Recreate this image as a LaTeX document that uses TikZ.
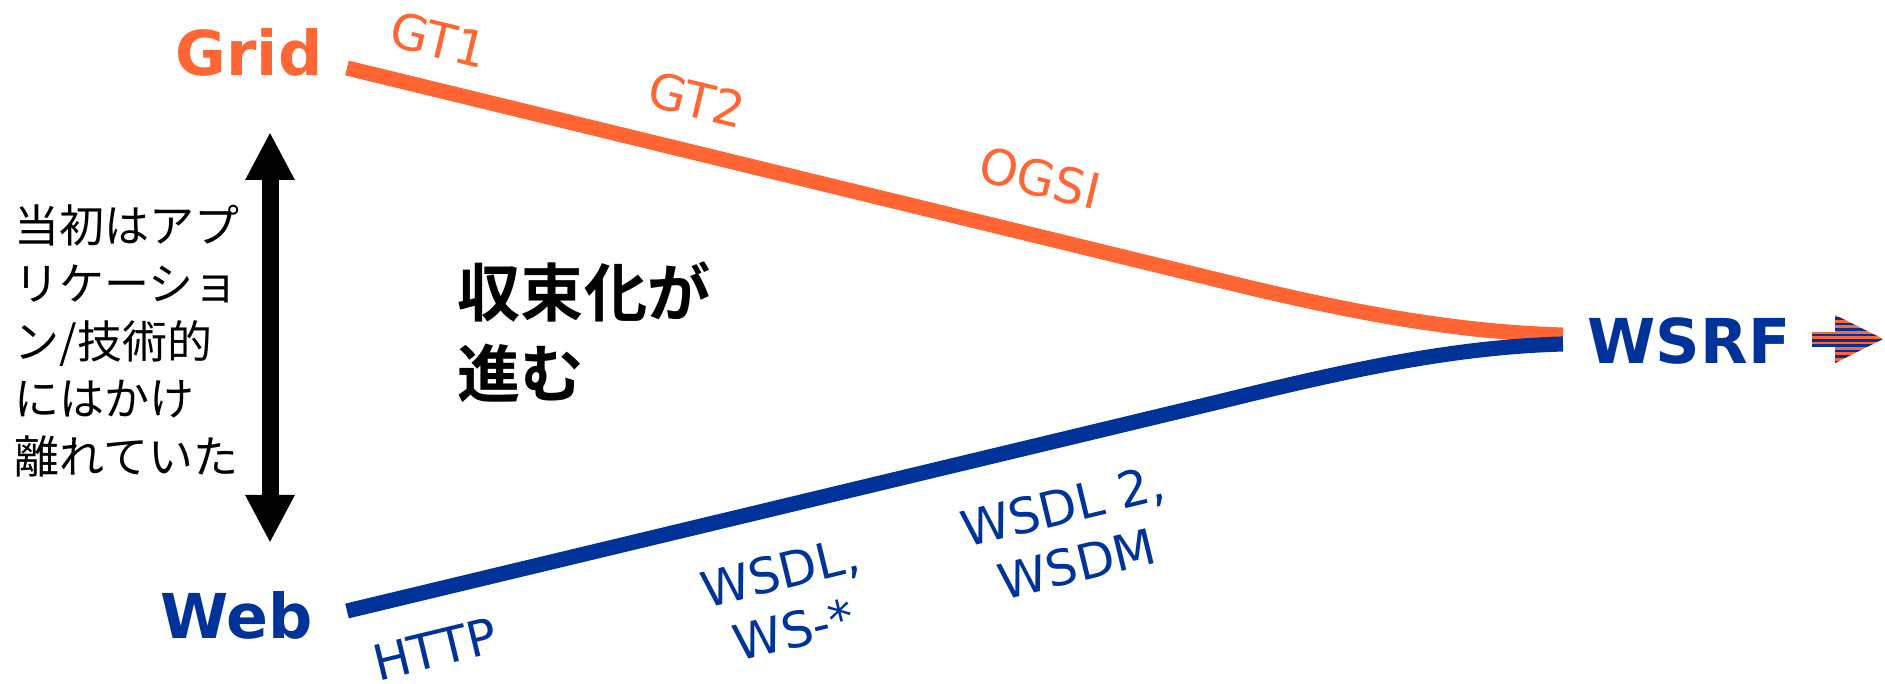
\documentclass[tikz,border=0pt]{standalone}
\usepackage{fontspec}
\setmainfont{DejaVu Sans}
\newfontfamily\jpfont{Noto Sans CJK JP}[BoldFont={Noto Sans CJK JP Bold}]
\usetikzlibrary{arrows.meta}
\definecolor{gridorange}{HTML}{FF6633}
\definecolor{webblue}{HTML}{003399}

\begin{document}
\begin{tikzpicture}[x=0.1mm,y=-0.1mm,>={Triangle[length=4.8mm,width=4.6mm]},
  every node/.style={inner sep=0pt},
  title/.style={font=\bfseries\fontsize{17.6}{20}\selectfont},
  spec/.style={font=\fontsize{14}{17}\selectfont,align=center},
  gridspec/.style={spec,text=gridorange,rotate=-13.6},
  webspec/.style={spec,text=webblue,rotate=13.6},
  gridline/.style={draw=gridorange,line width=4.3pt},
  webline/.style={draw=webblue,line width=4.3pt},
  spread/.style={<->,line width=1.7mm}]
  \useasboundingbox (0,0) rectangle (1885,684);
  \node[title,text=gridorange] (grid) at (249,52) {Grid};
  \node[title,text=webblue] (web) at (237,615) {Web};
  \node[title,text=webblue] (wsrf) at (1689,341) {WSRF};

  \node[gridspec] (gtone) at (439,40) {GT1};
  \node[gridspec] (gttwo) at (697,100) {GT2};
  \node[gridspec] (ogsi) at (1040,178) {OGSI};
  \node[webspec] (http) at (435,649) {HTTP};
  \node[webspec] (wsdl) at (787,601) {WSDL,\\WS-*};
  \node[webspec] (wsdltwo) at (1070,535) {WSDL 2,\\WSDM};

  \node[anchor=west,align=left,font=\jpfont\fontsize{12.8}{16.4}\selectfont] (apart) at (14,341)
    {当初はアプ\\リケーショ\\ン/技術的\\にはかけ\\離れていた};
  \node[anchor=west,align=left,font=\jpfont\bfseries\fontsize{18}{23}\selectfont] (converge) at (457,332)
    {収束化が\\進む};

  \coordinate (gridstart) at (347,68);
  \coordinate (gridbend) at (1214,279);
  \coordinate (gridend) at (1563,335);
  \coordinate (webstart) at (347,611);
  \coordinate (webbend) at (1214,403);
  \coordinate (webend) at (1563,344);
  \coordinate (spreadtop) at (270,132);
  \coordinate (spreadbottom) at (270,543);

  \draw[gridline] (gridstart) -- (gridbend) .. controls +(126,31) and +(-113,-3) .. (gridend);
  \draw[webline] (webstart) -- (webbend) .. controls +(126,-31) and +(-113,3) .. (webend);
  \draw[spread] (spreadtop) -- (spreadbottom);

  % striped arrow after WSRF
  \begin{scope}
    \clip (1812,332) -- (1835,332) -- (1835,315) -- (1883,339) -- (1835,363)
      -- (1835,347) -- (1812,347) -- cycle;
    \fill[gridorange] (1812,315) rectangle (1883,363);
    \foreach \k in {0,...,8}
      \fill[webblue] (1812,317.5+5.4*\k) rectangle (1883,320+5.4*\k);
  \end{scope}
\end{tikzpicture}
\end{document}
